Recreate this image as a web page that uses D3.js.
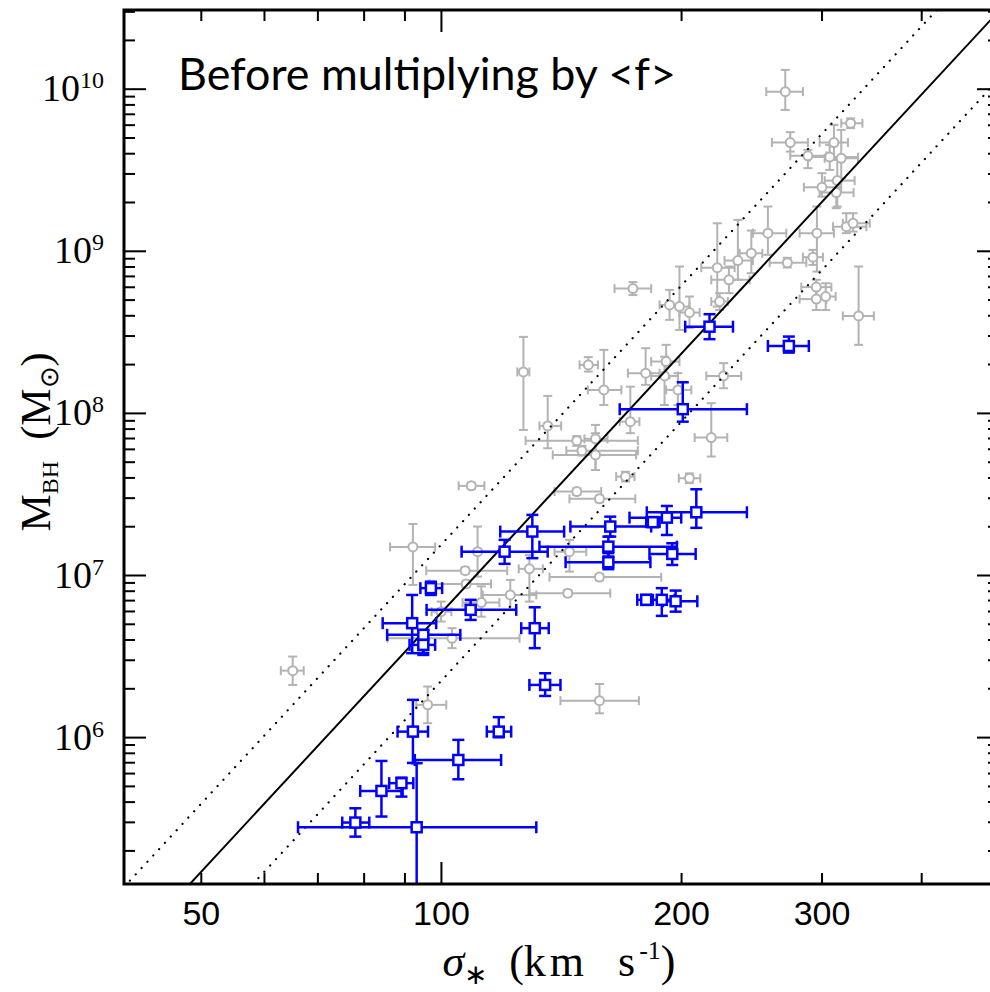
<!DOCTYPE html>
<html>
<head>
<meta charset="utf-8">
<script src="https://cdn.jsdelivr.net/npm/d3@7"></script>
<style>
body { margin: 0; background: #fff; }
text { white-space: pre; }
</style>
</head>
<body>
<script>
// gray points: sigma (km/s) with lower/upper, log M_BH with lower/upper
var sigGray   = [269.8,325.8,273.7,310.5,288.0,306.7,317.1,299.9,313.5,312.6,321.8,328.1,256.6,295.6,271.4,292.2,244.6,235.3,221.7,229.3,223.2,295.1,303.2,295.1,333.4,173.8,193.2,198.8,204.6,152.8,159.8,180.3,191.3,190.4,197.9,225.8,172.5,217.9,135.9,147.8,156.0,150.0,156.0,170.1,204.6,109.0,147.8,157.8,92.1,107.1,111.0,144.7,128.9,157.8,107.4,122.0,144.0,112.2,99.9,103.1,65.1,96.1,157.8,126.7];
var sigGrayLo = [255.4,317.1,259.6,297.9,273.7,289.5,302.3,284.7,302.3,297.9,309.6,318.6,245.7,281.2,257.9,283.9,236.5,226.4,211.7,217.9,217.9,282.6,295.1,281.2,318.6,164.8,187.7,193.2,198.8,149.0,152.6,171.3,183.2,183.2,191.3,214.8,167.3,207.7,132.7,127.5,151.1,143.4,137.9,165.6,198.4,105.1,138.6,144.7,86.2,95.7,106.0,138.6,125.0,136.6,96.6,112.7,128.9,106.3,97.2,85.6,62.9,93.0,141.0,124.5];
var sigGrayHi = [283.9,337.1,288.0,323.3,303.8,332.8,332.8,317.1,329.6,328.6,341.0,344.3,270.6,310.5,286.7,300.8,252.5,245.7,233.1,243.4,228.6,308.2,312.0,303.8,348.4,183.2,198.8,204.6,210.7,157.1,168.1,187.7,198.8,197.9,205.7,237.6,177.1,228.2,141.3,176.3,161.5,176.3,175.4,174.6,211.1,113.2,158.6,175.0,98.2,120.9,119.2,151.9,134.0,188.6,115.4,131.5,162.8,118.2,102.9,125.3,67.2,101.4,176.8,128.9];
var logMGray   = [9.985,9.79,9.671,9.671,9.589,9.581,9.574,9.395,9.436,9.362,9.152,9.173,9.112,9.112,8.93,8.964,8.988,8.943,8.899,8.824,8.69,8.779,8.721,8.705,8.601,8.77,8.669,8.659,8.622,8.299,8.145,8.248,8.32,8.231,8.145,8.231,7.949,7.851,7.923,7.832,7.843,7.77,7.744,7.61,7.60,7.553,7.518,7.473,7.176,7.03,7.147,7.147,7.041,6.99,6.948,6.88,6.891,6.833,6.777,6.613,6.413,6.202,6.228,8.256];
var logMGrayLo = [9.872,9.76,9.615,9.568,9.513,9.502,9.451,9.337,9.276,9.266,9.112,9.122,8.978,8.875,8.90,8.916,8.865,8.824,8.659,8.742,8.638,8.721,8.638,8.638,8.423,8.73,8.577,8.515,8.526,8.258,8.052,8.176,8.217,8.052,8.052,8.155,7.878,7.734,7.785,7.80,7.651,7.74,7.651,7.58,7.57,7.533,7.498,7.453,6.942,7.01,6.993,7.024,6.839,6.97,6.928,6.788,6.871,6.746,6.716,6.552,6.325,6.089,6.15,7.898];
var logMGrayHi = [10.119,9.82,9.735,9.78,9.626,9.656,9.749,9.482,9.564,9.44,9.235,9.235,9.276,9.276,8.96,9.009,9.128,9.194,9.173,8.906,8.742,8.824,8.803,8.782,8.906,8.81,8.762,8.906,8.721,8.347,8.392,8.402,8.423,8.35,8.248,8.31,8.165,8.063,8.108,7.86,7.929,7.80,7.878,7.64,7.63,7.573,7.538,7.493,7.318,7.05,7.302,7.22,7.127,7.01,6.968,6.973,6.911,6.933,6.839,6.675,6.5,6.315,6.331,8.472];

// blue points (before multiplying by <f>)
var sigBlue   = [216.8,272.6,200.7,208.7,191.7,184.1,162.8,130.0,161.9,194.7,161.9,120.0,97.0,108.8,91.9,94.9,94.9,130.9,180.6,188.9,196.6,134.9,118.0,92.1,105.0,89.1,84.1,78.0,93.1];
var sigBlueLo = [202.1,256.6,167.3,180.9,172.1,180.6,145.1,118.5,132.7,182.3,143.1,106.0,94.1,95.8,84.4,85.5,91.2,125.9,176.0,184.1,189.5,128.9,114.0,88.1,92.6,86.0,79.1,75.1,66.1];
var sigBlueHi = [232.0,288.8,241.5,241.5,199.8,187.7,183.2,142.5,197.3,208.3,182.8,135.9,100.2,124.1,98.5,105.6,98.2,136.3,183.2,196.0,209.3,141.0,122.3,96.2,118.8,92.2,89.4,81.2,131.5];
var logMBlue   = [8.535,8.416,8.026,7.39,7.357,7.329,7.302,7.271,7.178,7.133,7.082,7.147,6.922,6.788,6.706,6.634,6.572,6.675,6.85,6.85,6.841,6.325,6.037,6.037,5.862,5.719,5.671,5.476,5.447];
var logMBlueLo = [8.458,8.375,7.949,7.294,7.25,7.30,7.24,7.107,7.117,7.065,7.039,7.072,6.88,6.726,6.521,6.522,6.51,6.552,6.819,6.751,6.777,6.257,6.002,5.844,5.743,5.636,5.513,5.389,4.5];
var logMBlueHi = [8.612,8.474,8.192,7.532,7.429,7.36,7.363,7.374,7.24,7.199,7.138,7.22,6.962,6.85,6.88,6.664,6.615,6.804,6.88,6.922,6.907,6.397,6.126,6.233,5.986,5.753,5.856,5.564,5.842];

// M-sigma relation: log M = alpha + beta log(sigma/200), dotted = +/- scatter
var alpha = 8.37, beta = 5.31, scatter = 0.42;
var xTickLabels = [50, 100, 200, 300];
var yTickLabels = [1e6, 1e7, 1e8, 1e9, 1e10];

var width = 990, height = 992;
var L = 124, R = 999, T = 10, B = 884;
var svg = d3.select('body').append('svg').attr('width', width).attr('height', height);

var xScale = d3.scaleLog().domain([40, 500]).range([L, R]);
var yScale = d3.scaleLog().domain([1.25e5, 3.08e10]).range([B, T]);

svg.append('clipPath').attr('id', 'clip')
  .append('rect').attr('x', L).attr('y', T).attr('width', R - L).attr('height', B - T);
var plot = svg.append('g').attr('clip-path', 'url(#clip)');

function makePts(s, sl, sh, m, ml, mh) {
  return s.map(function(v, i) {
    return { s: v, sl: sl[i], sh: sh[i], m: Math.pow(10, m[i]), ml: Math.pow(10, ml[i]), mh: Math.pow(10, mh[i]) };
  });
}
var gray = makePts(sigGray, sigGrayLo, sigGrayHi, logMGray, logMGrayLo, logMGrayHi);
var blue = makePts(sigBlue, sigBlueLo, sigBlueHi, logMBlue, logMBlueLo, logMBlueHi);

function errBars(g, data, color, sw, cap) {
  var e = g.append('g').attr('stroke', color).attr('stroke-width', sw).attr('fill', 'none');
  data.forEach(function(d) {
    var x = xScale(d.s), y = yScale(d.m);
    var x0 = xScale(d.sl), x1 = xScale(d.sh), y0 = yScale(d.ml), y1 = yScale(d.mh);
    e.append('line').attr('x1', x0).attr('x2', x1).attr('y1', y).attr('y2', y);
    e.append('line').attr('x1', x0).attr('x2', x0).attr('y1', y - cap).attr('y2', y + cap);
    e.append('line').attr('x1', x1).attr('x2', x1).attr('y1', y - cap).attr('y2', y + cap);
    e.append('line').attr('x1', x).attr('x2', x).attr('y1', y0).attr('y2', y1);
    e.append('line').attr('x1', x - cap).attr('x2', x + cap).attr('y1', y0).attr('y2', y0);
    e.append('line').attr('x1', x - cap).attr('x2', x + cap).attr('y1', y1).attr('y2', y1);
  });
}

// gray sample
errBars(plot, gray, '#b3b3b3', 2, 4.5);
plot.append('g').selectAll('circle').data(gray).enter().append('circle')
  .attr('cx', function(d) { return xScale(d.s); })
  .attr('cy', function(d) { return yScale(d.m); })
  .attr('r', 4.5).attr('fill', '#fff').attr('stroke', '#b3b3b3').attr('stroke-width', 2);

// relation lines
var sigEnds = xScale.domain();
var rel = d3.line()
  .x(function(d) { return xScale(d.s); })
  .y(function(d) { return yScale(d.m); });
[0, 1, -1].forEach(function(k) {
  var pts = sigEnds.map(function(s) {
    return { s: s, m: Math.pow(10, alpha + beta * Math.log10(s / 200) + k * scatter) };
  });
  plot.append('path').attr('d', rel(pts)).attr('fill', 'none').attr('stroke', '#000')
    .attr('stroke-width', k === 0 ? 2 : 2.2)
    .attr('stroke-dasharray', k === 0 ? null : '0.1,8.5')
    .attr('stroke-linecap', k === 0 ? 'butt' : 'round');
});

// blue sample
errBars(plot, blue, '#0000ff', 2.5, 6);
plot.append('g').selectAll('rect').data(blue).enter().append('rect')
  .attr('x', function(d) { return xScale(d.s) - 5; })
  .attr('y', function(d) { return yScale(d.m) - 5; })
  .attr('width', 10).attr('height', 10)
  .attr('fill', '#fff').attr('stroke', '#0000ff').attr('stroke-width', 2.5);

// ticks on all four sides
var tk = svg.append('g').attr('stroke', '#000').attr('stroke-width', 2);
function isMajor(v) { return Math.abs(Math.log10(v) - Math.round(Math.log10(v))) < 1e-6; }
xScale.ticks().forEach(function(v) {
  var x = xScale(v), len = isMajor(v) ? 22 : 11;
  tk.append('line').attr('x1', x).attr('x2', x).attr('y1', B).attr('y2', B - len);
  tk.append('line').attr('x1', x).attr('x2', x).attr('y1', T).attr('y2', T + len);
});
yScale.ticks().forEach(function(v) {
  var y = yScale(v), len = isMajor(v) ? 22 : 11;
  tk.append('line').attr('x1', L).attr('x2', L + len).attr('y1', y).attr('y2', y);
  tk.append('line').attr('x1', R).attr('x2', R - len).attr('y1', y).attr('y2', y);
});
svg.append('rect').attr('x', L).attr('y', T).attr('width', R - L).attr('height', B - T)
  .attr('fill', 'none').attr('stroke', '#000').attr('stroke-width', 3);

// tick labels
svg.append('g').selectAll('text').data(xTickLabels).enter().append('text')
  .attr('x', function(d) { return xScale(d); }).attr('y', 925)
  .attr('text-anchor', 'middle')
  .style('font-family', 'Liberation Sans, Arial, sans-serif').style('font-size', '34px')
  .text(function(d) { return d; });

var yl = svg.append('g').selectAll('text').data(yTickLabels).enter().append('text')
  .attr('x', 104).attr('y', function(d) { return yScale(d) + 12; })
  .attr('text-anchor', 'end')
  .style('font-family', 'Liberation Serif, Times New Roman, serif');
yl.append('tspan').style('font-size', '38px').text('10');
yl.append('tspan').style('font-size', '24px').attr('dy', -13)
  .text(function(d) { return Math.round(Math.log10(d)); });

// axis titles
var xt = svg.append('text').attr('x', 559).attr('y', 976).attr('text-anchor', 'middle')
  .style('font-family', 'Liberation Serif, Times New Roman, serif').style('font-size', '44px');
xt.append('tspan').style('font-style', 'italic').text('σ');
xt.append('tspan').style('font-size', '28px').attr('dy', 8).text('∗');
xt.append('tspan').attr('dy', -8).text('  (');
xt.append('tspan').style('letter-spacing', '4px').text('km  s');
xt.append('tspan').style('font-size', '26px').attr('dy', -17).text('-1');
xt.append('tspan').attr('dy', 17).text(')');

var yt = svg.append('text').attr('transform', 'translate(50,442) rotate(-90)')
  .attr('text-anchor', 'middle')
  .style('font-family', 'Liberation Serif, Times New Roman, serif').style('font-size', '42px');
yt.append('tspan').text('M');
yt.append('tspan').style('font-size', '24px').attr('dy', 8).text('BH');
yt.append('tspan').attr('dy', -8).text('  (M');
yt.append('tspan').style('font-size', '26px').attr('dy', 8).text('⊙');
yt.append('tspan').attr('dy', -8).text(')');

// panel title
svg.append('text').attr('x', 178).attr('y', 90)
  .attr('textLength', 498).attr('lengthAdjust', 'spacingAndGlyphs')
  .style('font-family', 'Lato, Open Sans, sans-serif').style('font-size', '44px')
  .text('Before multiplying by <f>');
</script>
</body>
</html>
